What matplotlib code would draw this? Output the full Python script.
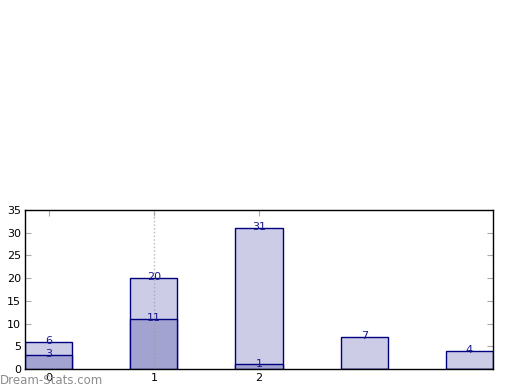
import numpy as np
import matplotlib
matplotlib.use("Agg")
import matplotlib.pyplot as plt

# bar values
positions = [0, 1, 2, 3, 4]
totals = [6, 20, 31, 7, 4]
inner = [3, 11, 1, 0, 0]
tick_pos = [0, 1, 2]
tick_labels = ["0", "1", "2"]

light = "#ccccE6"
dark = "#a3a3d1"
edge = "#000080"

fig = plt.figure(figsize=(5.2, 3.9), dpi=100)
ax = fig.add_axes([25 / 520, 21 / 390, 468 / 520, 159 / 390])

w = 0.45
ax.bar(positions, totals, width=w, color=light, edgecolor=edge, linewidth=1, zorder=2)
ax.bar(positions, inner, width=w, color=dark, edgecolor=edge, linewidth=1, zorder=3)

for x, v in zip(positions, totals):
    ax.text(x, v + 0.2, str(v), ha="center", va="center", fontsize=8, color="#1a1a8c", zorder=5)
for x, v in zip(positions, inner):
    if v > 0:
        ax.text(x, v + 0.2, str(v), ha="center", va="center", fontsize=8, color="#1a1a8c", zorder=5)

# dotted guide drawn over the bars
ax.axvline(1, color="#999999", linestyle=":", linewidth=1, alpha=0.7, zorder=4)

ax.set_xlim(-0.225, 4.225)
ax.set_ylim(0, 35)
ax.set_xticks(tick_pos)
ax.set_xticklabels(tick_labels)
ax.set_yticks(np.arange(0, 36, 5))
ax.tick_params(direction="in", length=4, color="#aaaaaa", labelsize=8,
               top=True, right=True, pad=3)
for s in ax.spines.values():
    s.set_color("black")
    s.set_linewidth(1)
    s.set_zorder(6)

fig.text(0, 10 / 390, "Dream-Stats.com", fontsize=8.5, color="#8c8c8c",
         ha="left", va="center")

fig.savefig("out.png", dpi=100)
